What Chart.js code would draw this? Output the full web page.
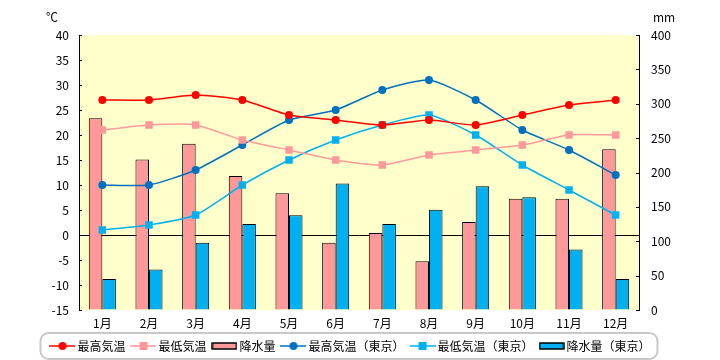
<!DOCTYPE html>
<html>
<head>
<meta charset="utf-8">
<script src="https://cdn.jsdelivr.net/npm/chart.js@4/dist/chart.umd.min.js"></script>
<style>
html,body{margin:0;padding:0;background:#fff;}
#wrap{width:720px;height:360px;position:relative;}
</style>
</head>
<body>
<div id="wrap"><canvas id="c" width="720" height="360"></canvas></div>
<script>
const categories = ['1月','2月','3月','4月','5月','6月','7月','8月','9月','10月','11月','12月'];
const maxTemp = [27, 27, 28, 27, 24, 23, 22, 23, 22, 24, 26, 27];
const minTemp = [21, 22, 22, 19, 17, 15, 14, 16, 17, 18, 20, 20];
const precip = [279, 219, 242, 195, 170, 98, 112, 71, 128, 162, 162, 234];
const maxTempTokyo = [10, 10, 13, 18, 23, 25, 29, 31, 27, 21, 17, 12];
const minTempTokyo = [1, 2, 4, 10, 15, 19, 22, 24, 20, 14, 9, 4];
const precipTokyo = [45, 59, 98, 125, 138, 184, 125, 146, 180, 164, 88, 45];
const seriesNames = ['最高気温','最低気温','降水量','最高気温（東京）','最低気温（東京）','降水量（東京）'];
const tempUnit = '℃';
const precipUnit = 'mm';

const FONT = "'Noto Sans CJK JP', 'Noto Sans', sans-serif";
const C_RED = '#ff0000', C_PINK = '#ff9999', C_DBLUE = '#0070c0', C_LBLUE = '#00b0f0';

const BW = 18; // legend box width
function iconLine(color, shape) {
  const cv = document.createElement('canvas');
  cv.width = BW + 8; cv.height = 10;
  const g = cv.getContext('2d');
  g.strokeStyle = color; g.lineWidth = 1.5;
  g.beginPath(); g.moveTo(0, 5); g.lineTo(cv.width, 5); g.stroke();
  g.fillStyle = color;
  if (shape === 'circle') { g.beginPath(); g.arc(cv.width/2, 5, 4, 0, Math.PI*2); g.fill(); }
  else { g.fillRect(cv.width/2 - 4, 1, 8, 8); }
  return cv;
}
function iconBar(color) {
  const cv = document.createElement('canvas');
  cv.width = BW + 8; cv.height = 10;
  const g = cv.getContext('2d');
  g.fillStyle = color; g.fillRect(1, 2, cv.width - 2, 6);
  g.strokeStyle = '#000'; g.lineWidth = 1.5; g.strokeRect(1, 2, cv.width - 2, 6);
  return cv;
}
const icons = [iconLine(C_RED,'circle'), iconLine(C_PINK,'rect'), iconBar(C_PINK),
               iconLine(C_DBLUE,'circle'), iconLine(C_LBLUE,'rect'), iconBar(C_LBLUE)];

const bgPlugin = {
  id: 'bg',
  beforeDraw(chart) {
    const a = chart.chartArea, ctx = chart.ctx;
    ctx.save(); ctx.fillStyle = '#ffffcc';
    ctx.fillRect(a.left, a.top, a.right - a.left, a.bottom - a.top);
    ctx.restore();
  },
  afterDraw(chart) {
    const a = chart.chartArea, ctx = chart.ctx;
    ctx.save();
    ctx.strokeStyle = '#000'; ctx.lineWidth = 1;
    const y = chart.scales.y, y1 = chart.scales.y1;
    y.ticks.forEach((t, i) => { const p = Math.round(y.getPixelForTick(i)) + 0.5; ctx.beginPath(); ctx.moveTo(a.left, p); ctx.lineTo(a.left + 3, p); ctx.stroke(); });
    y1.ticks.forEach((t, i) => { const p = Math.round(y1.getPixelForTick(i)) + 0.5; ctx.beginPath(); ctx.moveTo(a.right - 3, p); ctx.lineTo(a.right, p); ctx.stroke(); });
    ctx.fillStyle = '#000'; ctx.font = '12px ' + FONT; ctx.textAlign = 'center'; ctx.textBaseline = 'middle';
    ctx.fillText(tempUnit, a.left - 27, 17);
    ctx.fillText(precipUnit, a.right + 25, 17);
    // legend frame
    const lg = chart.legend;
    if (lg && lg.legendHitBoxes && lg.legendHitBoxes.length) {
      const hb = lg.legendHitBoxes;
      let l = Infinity, r = -Infinity, t = Infinity, b = -Infinity;
      hb.forEach(h => { l = Math.min(l, h.left); r = Math.max(r, h.left + h.width); t = Math.min(t, h.top); b = Math.max(b, h.top + h.height); });
      const x0 = l - 13, x1 = r + 7, y0 = t - 7, y1b = b + 7;
      ctx.strokeStyle = '#c8c8c8'; ctx.lineWidth = 2;
      ctx.beginPath(); ctx.roundRect(x0, y0, x1 - x0, y1b - y0, 8); ctx.stroke();
    }
    ctx.restore();
  }
};

const lineDs = (label, data, color, style) => ({
  type: 'line', label, data, yAxisID: 'y', order: 0,
  borderColor: color, backgroundColor: color, borderWidth: 1.5,
  pointStyle: style, pointRadius: style === 'rect' ? 5.3 : 4, pointBorderWidth: 0,
  pointBackgroundColor: color, tension: 0.2, fill: false
});
const barDs = (label, data, color) => ({
  type: 'bar', label, data, yAxisID: 'y1', order: 1,
  backgroundColor: color, borderColor: '#000', borderWidth: 1,
  barPercentage: 1, categoryPercentage: 0.58
});

new Chart(document.getElementById('c'), {
  type: 'bar',
  data: {
    labels: categories,
    datasets: [
      lineDs(seriesNames[0], maxTemp, C_RED, 'circle'),
      lineDs(seriesNames[1], minTemp, C_PINK, 'rect'),
      barDs(seriesNames[2], precip, C_PINK),
      lineDs(seriesNames[3], maxTempTokyo, C_DBLUE, 'circle'),
      lineDs(seriesNames[4], minTempTokyo, C_LBLUE, 'rect'),
      barDs(seriesNames[5], precipTokyo, C_LBLUE)
    ]
  },
  options: {
    responsive: false, animation: false, devicePixelRatio: 1,
    layout: { padding: { left: 0, right: 16, top: 35, bottom: -2 } },
    font: { family: FONT, size: 12 },
    scales: {
      x: {
        grid: { display: false }, border: { display: false },
        ticks: { color: '#000', font: { family: FONT, size: 12 }, padding: -2, maxRotation: 0 },
        afterFit(s) { s.height = 21; s._computeLabelArea = () => null; }
      },
      y: {
        position: 'left', min: -15, max: 40,
        ticks: { stepSize: 5, color: '#000', font: { family: FONT, size: 12 }, padding: 10 },
        grid: { drawTicks: false, color: c => c.tick && c.tick.value === 0 ? '#000' : 'rgba(0,0,0,0)', lineWidth: 1 },
        border: { display: true, color: '#000', width: 1 },
        afterFit(s) { s.width = 79; }
      },
      y1: {
        position: 'right', min: 0, max: 400,
        ticks: { stepSize: 50, color: '#000', font: { family: FONT, size: 12 }, padding: 12 },
        grid: { drawTicks: false, drawOnChartArea: false },
        border: { display: true, color: '#000', width: 1 },
        afterFit(s) { s.width = 65; s._computeLabelArea = () => null; }
      }
    },
    plugins: {
      tooltip: { enabled: false },
      legend: {
        position: 'bottom',
        labels: {
          usePointStyle: true, pointStyleWidth: BW, padding: 9, color: '#000',
          font: { family: FONT, size: 12 },
          generateLabels(chart) {
            const items = Chart.defaults.plugins.legend.labels.generateLabels(chart);
            items.sort((a, b) => a.datasetIndex - b.datasetIndex);
            items.forEach(it => { it.pointStyle = icons[it.datasetIndex]; });
            return items;
          }
        }
      }
    }
  },
  plugins: [bgPlugin]
});
</script>
</body>
</html>
